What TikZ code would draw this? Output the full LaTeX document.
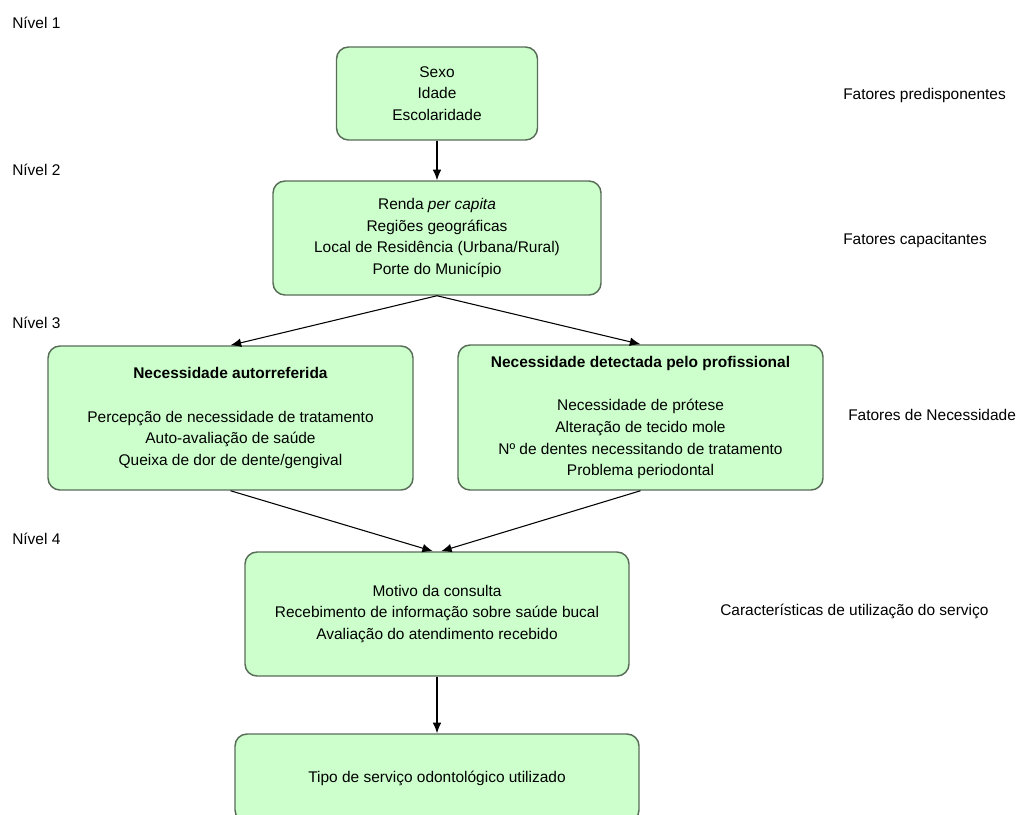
\documentclass[tikz,border=0pt]{standalone}
\usepackage{fontspec}
\setmainfont{Liberation Sans}
\usetikzlibrary{arrows.meta}
\definecolor{boxfill}{RGB}{204,255,204}
\definecolor{boxline}{RGB}{88,108,88}
\begin{document}
\begin{tikzpicture}[x=0.75pt,y=-0.75pt]
        \useasboundingbox (0,0) rectangle (1019,814);

        \begin{scope}[every node/.style={draw=boxline,fill=boxfill,line width=1.1pt,rounded corners=9pt,
            align=center,inner sep=0pt,font=\fontsize{11.6}{16.3}\selectfont}]
          \node[minimum width=150.75pt,minimum height=69.75pt] (1) at (437,93.5) {Sexo\\Idade\\Escolaridade};
          \node[minimum width=246pt,minimum height=85.5pt] (2) at (437,238)
            {Renda \textit{per capita}\\Regiões geográficas\\Local de Residência (Urbana/Rural)\\Porte do Município};
          \node[minimum width=273.75pt,minimum height=108pt] (3) at (230.5,418)
            {\textbf{Necessidade autorreferida}\\[16.3pt]Percepção de necessidade de tratamento\\Auto-avaliação de saúde\\Queixa de dor de dente/gengival};
          \node[minimum width=273.75pt,minimum height=108.75pt] (4) at (640.5,417.5)
            {\textbf{Necessidade detectada pelo profissional}\\[16.3pt]Necessidade de prótese\\Alteração de tecido mole\\Nº de dentes necessitando de tratamento\\Problema periodontal};
          \node[minimum width=288pt,minimum height=93pt] (5) at (437,614)
            {Motivo da consulta\\Recebimento de informação sobre saúde bucal\\Avaliação do atendimento recebido};
          \node[minimum width=303pt,minimum height=66pt] (6) at (437,778) {Tipo de serviço odontológico utilizado};
        \end{scope}

        \begin{scope}[every node/.style={anchor=west,inner sep=0pt,font=\fontsize{11.6}{16.3}\selectfont}]
          \node (n1) at (12,23)  {Nível 1};
          \node (n2) at (12,170) {Nível 2};
          \node (n3) at (12,323) {Nível 3};
          \node (n4) at (12,539) {Nível 4};
          \node (f1) at (843,95)  {Fatores predisponentes};
          \node (f2) at (843,240) {Fatores capacitantes};
          \node (f3) at (848,415) {Fatores de Necessidade};
          \node (f4) at (720,611) {Características de utilização do serviço};
        \end{scope}

        \begin{scope}[every edge/.style={draw,line width=0.8pt,-{Latex[length=8pt,width=6.5pt]}}]
          \path (1.south) edge (2.north);
          \path (2.south) edge (3.north);
          \path (2.south) edge (4.north);
          \path (3.south) edge ([xshift=-3pt]5.north);
          \path (4.south) edge ([xshift=3pt]5.north);
          \path (5.south) edge (6.north);
        \end{scope}

      \end{tikzpicture}
\end{document}
